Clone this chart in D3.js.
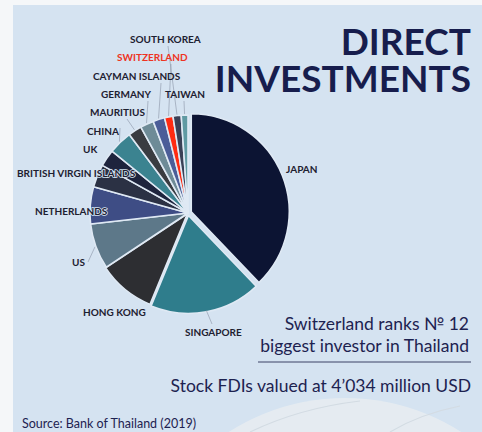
<!DOCTYPE html>
<html>
<head>
<meta charset="utf-8">
<script src="https://cdn.jsdelivr.net/npm/d3@7"></script>
<style>
  html, body { margin: 0; padding: 0; background: #f5f7f9; }
  svg { display: block; }
  text { font-family: "Lato", "Open Sans", sans-serif; }
</style>
</head>
<body>
<svg id="chart" width="482" height="432"></svg>
<script>
// Inward FDI stock in Thailand by source economy, million USD (2019)
const countries = ["JAPAN", "SINGAPORE", "HONG KONG", "US", "NETHERLANDS",
  "BRITISH VIRGIN ISLANDS", "UK", "CHINA", "MAURITIUS", "GERMANY",
  "CAYMAN ISLANDS", "SWITZERLAND", "SOUTH KOREA", "TAIWAN"];
const stockValues = [109700, 53200, 27400, 21800, 17700,
  10900, 8100, 11300, 6500, 6400,
  5600, 4034, 3900, 3200];
const sliceColors = ["#0c1433", "#2f7d8c", "#2d2e32", "#5d7889", "#3e4d85",
  "#2b3144", "#1e243d", "#3b8390", "#3a3c41", "#6e8b97",
  "#4b5d98", "#ff2b12", "#3a4056", "#5f9aa3"];

const titleLines = ["DIRECT", "INVESTMENTS"];
const noteLines = ["Switzerland ranks № 12", "biggest investor in Thailand"];
const totalLine = "Stock FDIs valued at 4’034 million USD";
const sourceLine = "Source: Bank of Thailand (2019)";

// label placement: [x, baseline y, leader start x, leader start y or null]
const labelLayout = {
  "JAPAN": [286, 173, null, null],
  "SINGAPORE": [185, 336, 212, 324],
  "HONG KONG": [83, 316, null, null],
  "US": [72, 266, 88, 262],
  "NETHERLANDS": [35, 215, null, null],
  "BRITISH VIRGIN ISLANDS": [17, 177, null, null],
  "UK": [83, 153, null, null],
  "CHINA": [87, 135, 120, 128],
  "MAURITIUS": [90, 116, 127, 119],
  "GERMANY": [101, 98, 148, 101],
  "CAYMAN ISLANDS": [93, 80, 161, 83],
  "SWITZERLAND": [117, 61, 171, 64],
  "SOUTH KOREA": [130, 43, 168, 46],
  "TAIWAN": [165, 98, 184, 101]
};
// slices pulled away from the centre, px
const explode = { "JAPAN": 3.5, "SINGAPORE": 2.5, "HONG KONG": 1 };

const svg = d3.select("#chart");
const W = 482, H = 432;

// backdrop panel
svg.append("rect").attr("x", 0).attr("y", 0).attr("width", W).attr("height", H).attr("fill", "#f5f7f9");
svg.append("rect").attr("x", 13).attr("y", 5).attr("width", W - 13).attr("height", H - 5).attr("fill", "#d5e3f1");

// faint globe rising at the bottom
const globe = svg.append("g").attr("opacity", 0.8);
globe.append("ellipse").attr("cx", 345).attr("cy", 612).attr("rx", 215).attr("ry", 214).attr("fill", "#e9eef2");
globe.append("path").attr("d", "M250,432 Q300,408 360,401 M390,432 Q420,414 460,406")
  .attr("fill", "none").attr("stroke", "#d3dae0").attr("stroke-width", 1.2);

// pie
const cx = 188, cy = 213, R = 98;
const data = countries.map((c, i) => ({ name: c, value: stockValues[i], color: sliceColors[i] }));
const pie = d3.pie().value(d => d.value).sort(null);
const arcs = pie(data);
const arc = d3.arc().innerRadius(0).outerRadius(R);
const outerArc = d3.arc().innerRadius(R + 1).outerRadius(R + 1);

const pieG = svg.append("g").attr("transform", `translate(${cx},${cy})`);
pieG.selectAll("path.slice")
  .data(arcs)
  .join("path")
  .attr("class", "slice")
  .attr("d", arc)
  .attr("fill", d => d.data.color)
  .attr("stroke", "#dfe9f4")
  .attr("stroke-width", 1.6)
  .attr("stroke-linejoin", "round")
  .attr("transform", d => {
    const e = explode[d.data.name] || 0;
    const a = (d.startAngle + d.endAngle) / 2;
    return `translate(${e * Math.sin(a)},${-e * Math.cos(a)})`;
  });

// leader lines
const leaders = arcs.filter(d => labelLayout[d.data.name][2] !== null);
svg.append("g").selectAll("line")
  .data(leaders)
  .join("line")
  .attr("x1", d => labelLayout[d.data.name][2])
  .attr("y1", d => labelLayout[d.data.name][3])
  .attr("x2", d => cx + outerArc.centroid(d)[0])
  .attr("y2", d => cy + outerArc.centroid(d)[1])
  .attr("stroke", "#8993a6")
  .attr("stroke-width", 0.6);

// category labels
svg.append("g").selectAll("text")
  .data(arcs)
  .join("text")
  .attr("x", d => labelLayout[d.data.name][0])
  .attr("y", d => labelLayout[d.data.name][1])
  .attr("font-size", 10)
  .attr("font-weight", 700)
  .attr("fill", d => d.data.name === "SWITZERLAND" ? "#ee3322" : "#1d2030")
  .attr("stroke", "#d5e3f1")
  .attr("stroke-width", d => (d.data.name === "BRITISH VIRGIN ISLANDS" || d.data.name === "NETHERLANDS") ? 1.6 : 0)
  .attr("paint-order", "stroke")
  .text(d => d.data.name);

// title
svg.append("g").selectAll("text")
  .data(titleLines)
  .join("text")
  .attr("x", 471)
  .attr("y", (d, i) => 55 + i * 37)
  .attr("text-anchor", "end")
  .attr("font-size", 37)
  .attr("font-weight", 700)
  .attr("fill", "#171d4d")
  .text(d => d);

// note
svg.append("g").selectAll("text")
  .data(noteLines)
  .join("text")
  .attr("x", 469)
  .attr("y", (d, i) => 330 + i * 22)
  .attr("text-anchor", "end")
  .attr("font-size", 17.5)
  .attr("fill", "#1d2250")
  .text(d => d);
svg.append("line").attr("x1", 258).attr("x2", 471).attr("y1", 362).attr("y2", 362)
  .attr("stroke", "#3c4266").attr("stroke-width", 1);

svg.append("text").attr("x", 471).attr("y", 392).attr("text-anchor", "end")
  .attr("font-size", 17.5).attr("fill", "#1d2250").text(totalLine);

svg.append("text").attr("x", 22).attr("y", 428)
  .attr("font-size", 12.5).attr("fill", "#1d2250").text(sourceLine);
</script>
</body>
</html>
